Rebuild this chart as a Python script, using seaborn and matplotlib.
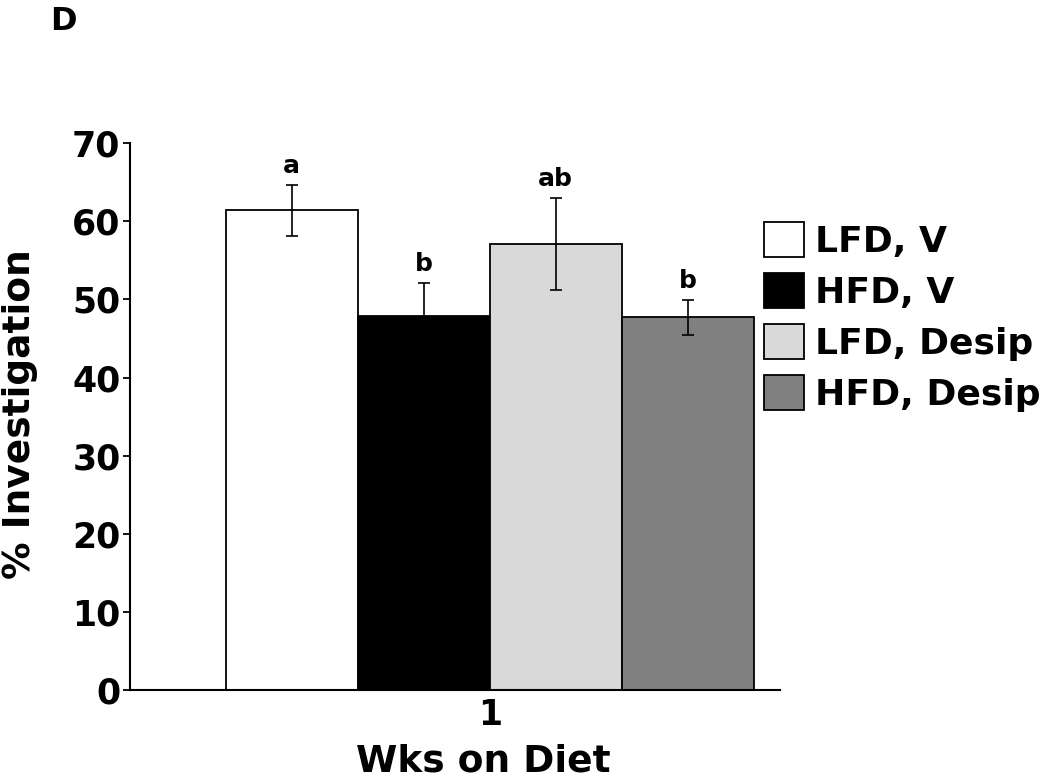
import matplotlib
matplotlib.use("Agg")
import matplotlib.pyplot as plt
import pandas as pd
import seaborn as sns

# values
groups = ["LFD, V", "HFD, V", "LFD, Desip", "HFD, Desip"]
weeks = ["1", "1", "1", "1"]
pct_investigation = [61.4, 47.9, 57.1, 47.7]
sem = [3.3, 4.2, 5.9, 2.2]
letters = ["a", "b", "ab", "b"]
colors = ["#ffffff", "#000000", "#d9d9d9", "#808080"]

df = pd.DataFrame({"week": weeks, "group": groups, "pct": pct_investigation})

sns.set_style("white")
plt.rcParams['font.family'] = ['DejaVu Sans']
plt.rcParams['font.weight'] = 'bold'
for k in ['text.color', 'axes.labelcolor', 'xtick.color', 'ytick.color']:
    plt.rcParams[k] = 'black'

fig = plt.figure(figsize=(10.5, 7.82), dpi=100)
ax = fig.add_axes([0.124, 0.1176, 0.619, 0.6994])

sns.barplot(ax=ax, data=df, x="week", y="pct", hue="group", hue_order=groups,
            palette=colors, edgecolor="black", linewidth=1.3, errorbar=None,
            width=0.8, legend=False)

bars = [cont[0] for cont in list(ax.containers)]
for i, bar in enumerate(bars):
    xc = bar.get_x() + bar.get_width() / 2
    ax.errorbar(xc, pct_investigation[i], yerr=sem[i], fmt="none", ecolor="black",
                elinewidth=1.2, capsize=4, capthick=1.2)
    ax.annotate(letters[i], (xc, pct_investigation[i] + sem[i]), xytext=(0, 5),
                textcoords="offset points", ha="center", va="bottom",
                fontsize=18, fontweight="bold")

ax.set_ylim(0, 70)
ax.set_xlim(-0.545, 0.44)
ax.set_yticks(range(0, 71, 10))
ax.tick_params(axis="y", which="major", direction="out", length=5, width=1.3,
               labelsize=25, left=True, pad=2)
ax.tick_params(axis="x", length=0, labelsize=25, pad=6)
for lab in ax.get_xticklabels() + ax.get_yticklabels():
    lab.set_fontweight("bold")
ax.set_ylabel("% Investigation", fontsize=27, fontweight="bold")
ax.yaxis.set_label_coords(-0.142, 0.505)
ax.set_xlabel("Wks on Diet", fontsize=27, fontweight="bold")
ax.xaxis.set_label_coords(0.543, -0.097)
sns.despine(ax=ax)
for s in ["left", "bottom"]:
    ax.spines[s].set_color("black")
    ax.spines[s].set_linewidth(1.5)

fig.legend(bars, groups, loc="upper left", bbox_to_anchor=(0.728, 0.716),
           frameon=False, prop={"size": 26, "weight": "bold"},
           handlelength=1.1, handleheight=1.1, handletextpad=0.3,
           labelspacing=0.4, borderpad=0, borderaxespad=0)

fig.text(0.048, 0.992, "D", fontsize=23, fontweight="bold", va="top")

fig.savefig("out.png", dpi=100)
